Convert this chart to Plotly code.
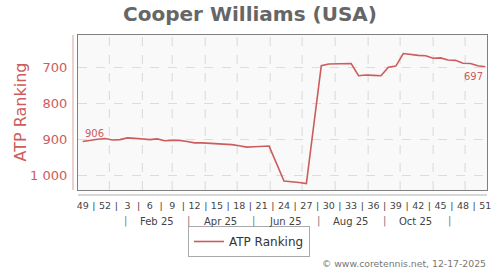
import pandas as pd
import plotly.graph_objects as go

# ---------------- data ----------------
start_date = "2024-12-07"
ranks = [906, 902, 900, 898, 902, 901, 896, 897, 899, 901,
         899, 904, 903, 903, 906, 910, 910, 911, 912, 913,
         915, 918, 922, 921, 919, 919, None, 1017, 1018, 1021,
         1024, None, 694, 689, 689, 688, 688, 722, 720, 721,
         722, 698, 695, 660, 663, 665, 666, 673, 672, 678,
         679, 687, 688, 694, 697]
week_labels = ["49", "52", "3", "6", "9", "12", "15", "18", "21", "24",
               "27", "30", "33", "36", "39", "42", "45", "48", "51"]
month_labels = ["Feb 25", "Apr 25", "Jun 25", "Aug 25", "Oct 25"]
month_label_dates = ["2025-02-15", "2025-04-15", "2025-06-15", "2025-08-15", "2025-10-15"]
month_sep_dates = ["2025-01-16", "2025-03-16", "2025-05-16", "2025-07-16", "2025-09-16", "2025-11-16"]
grid_dates = ["2025-%02d-01" % m for m in range(1, 13)]
y_ticks = [700, 800, 900, 1000]
y_ticktext = ["700", "800", "900", "1 000"]
first_label = "906"
last_label = "697"

dates = pd.date_range(start_date, periods=len(ranks), freq="7D")

RED = "#cd5c5c"
FONT = "DejaVu Sans"

# week tick positions + separators
tickvals, ticktext = [], []
for j, lab in enumerate(week_labels):
    d = dates[3 * j]
    tickvals.append(d)
    ticktext.append(lab)
    if j < len(week_labels) - 1:
        tickvals.append(d + pd.Timedelta(hours=252))
        ticktext.append("|")

fig = go.Figure()
fig.add_trace(go.Scatter(
    x=dates, y=ranks, mode="lines", name="ATP Ranking",
    line=dict(color=RED, width=1.6), connectgaps=True,
))

shapes = []
for g in grid_dates:
    shapes.append(dict(type="line", xref="x", yref="paper", x0=g, x1=g, y0=0, y1=1,
                       line=dict(color="#d8d8d8", width=1, dash="dash"), layer="below"))
# offset y axis line (pink)
shapes.append(dict(type="line", xref="paper", yref="paper", x0=-5 / 409, x1=-5 / 409, y0=0, y1=1,
                   line=dict(color="#e0b0b0", width=1.2)))
# offset x axis line (gray)
shapes.append(dict(type="line", xref="paper", yref="paper", x0=0, x1=1, y0=-5 / 155, y1=-5 / 155,
                   line=dict(color="#b0b0b0", width=1.2)))

annotations = []
for lab, d in zip(month_labels, month_label_dates):
    annotations.append(dict(x=d, y=-31 / 155, xref="x", yref="paper", text=lab, showarrow=False,
                            font=dict(family=FONT, size=10, color="#444"), xanchor="center", yanchor="middle"))
for d in month_sep_dates:
    annotations.append(dict(x=d, y=-31 / 155, xref="x", yref="paper", text="|", showarrow=False,
                            font=dict(family=FONT, size=10, color="#777"), xanchor="center", yanchor="middle"))
annotations.append(dict(x=dates[0], y=ranks[0], xref="x", yref="y", text=first_label, showarrow=False,
                        font=dict(family=FONT, size=10, color=RED), xanchor="left", yanchor="bottom", yshift=0))
annotations.append(dict(x=dates[-1], y=ranks[-1], xref="x", yref="y", text=last_label, showarrow=False,
                        font=dict(family=FONT, size=10, color=RED), xanchor="right", yanchor="top", yshift=-2))
annotations.append(dict(x=-58 / 409, y=0.5, xref="paper", yref="paper", text="ATP Ranking", textangle=-90,
                        showarrow=False, font=dict(family=FONT, size=16, color=RED),
                        xanchor="center", yanchor="middle"))
annotations.append(dict(x=1.0025, y=-73 / 155, xref="paper", yref="paper",
                        text="© www.coretennis.net, 12-17-2025", showarrow=False,
                        font=dict(family=FONT, size=9.3, color="#777"), xanchor="right", yanchor="middle"))

fig.update_layout(
    width=500, height=270,
    margin=dict(l=78, r=13, t=35, b=80, autoexpand=False),
    paper_bgcolor="white", plot_bgcolor="#f9f9f9",
    font=dict(family=FONT),
    title=dict(text="<b>Cooper Williams (USA)</b>", x=0.5, xref="container", xanchor="center",
               y=1 - 14 / 270, yref="container", yanchor="middle",
               font=dict(family=FONT, size=20, color="#666")),
    showlegend=True,
    legend=dict(orientation="h", x=0.418, xanchor="center", y=-67 / 155, yanchor="bottom",
                bordercolor="#aaa", borderwidth=1, bgcolor="white",
                font=dict(family=FONT, size=12, color="#333")),
    shapes=shapes, annotations=annotations,
    xaxis=dict(type="date", range=["2024-12-02 14:00", "2025-12-21 14:00"],
               tickmode="array", tickvals=tickvals, ticktext=ticktext,
               showgrid=False, zeroline=False,
               showline=True, mirror=True, linecolor="#808080", linewidth=1.2,
               ticks="outside", ticklen=6, tickcolor="rgba(0,0,0,0)",
               tickfont=dict(family=FONT, size=9.5, color="#444")),
    yaxis=dict(range=[1042, 608], tickmode="array", tickvals=y_ticks, ticktext=y_ticktext,
               showgrid=True, gridcolor="#dcdcdc", griddash="dash", zeroline=False,
               showline=True, mirror=True, linecolor="#808080", linewidth=1.2,
               ticks="outside", ticklen=7, tickcolor="rgba(0,0,0,0)",
               tickfont=dict(family=FONT, size=13, color=RED)),
)

fig.write_html("out.html")
